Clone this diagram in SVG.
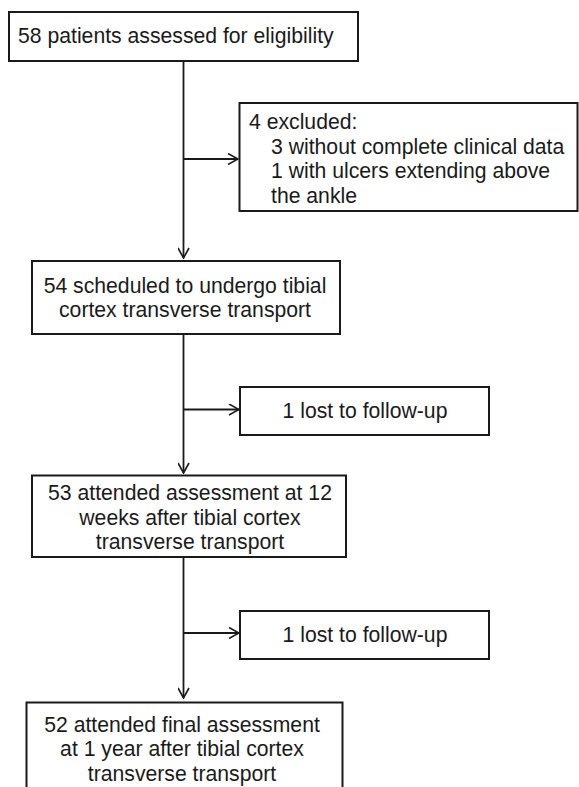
<svg xmlns="http://www.w3.org/2000/svg" width="579" height="787" viewBox="0 0 579 787">
<style>
.box{fill:#fff;stroke:#1a1a1a;stroke-width:2}
.t{font-family:"Liberation Sans",Arial,sans-serif;font-size:21.2px;fill:#1a1a1a}
.c{text-anchor:middle}
.ln{fill:none;stroke:#1a1a1a;stroke-width:1.8}
</style>
<defs>
<marker id="arr" viewBox="0 0 12 12" refX="11" refY="6" markerWidth="12" markerHeight="12" orient="auto" markerUnits="userSpaceOnUse">
<path d="M1,0.5 L11,6 L1,11.5" fill="none" stroke="#1a1a1a" stroke-width="1.6"/>
</marker>
</defs>
<rect width="579" height="787" fill="#fff"/>
<g id="connectors">
<line class="ln" x1="183.5" y1="61" x2="183.5" y2="258" marker-end="url(#arr)"/>
<line class="ln" x1="183.5" y1="159" x2="238" y2="159" marker-end="url(#arr)"/>
<line class="ln" x1="183.5" y1="334" x2="183.5" y2="473" marker-end="url(#arr)"/>
<line class="ln" x1="183.5" y1="409.5" x2="239" y2="409.5" marker-end="url(#arr)"/>
<line class="ln" x1="183.5" y1="557" x2="183.5" y2="698" marker-end="url(#arr)"/>
<line class="ln" x1="183.5" y1="633" x2="239" y2="633" marker-end="url(#arr)"/>
</g>
<g id="n1">
<rect class="box" x="9" y="12" width="349" height="49"/>
<text class="t" x="18" y="43">58 patients assessed for eligibility</text>
</g>
<g id="n2">
<rect class="box" x="239.5" y="103" width="338" height="108"/>
<text class="t" x="249" y="129">4 excluded:</text>
<text class="t" x="271" y="153.5">3 without complete clinical data</text>
<text class="t" x="271" y="178">1 with ulcers extending above</text>
<text class="t" x="271" y="202.5">the ankle</text>
</g>
<g id="n3">
<rect class="box" x="32" y="261" width="308" height="73"/>
<text class="t c" x="185" y="293">54 scheduled to undergo tibial</text>
<text class="t c" x="185" y="317">cortex transverse transport</text>
</g>
<g id="n4">
<rect class="box" x="240" y="387" width="249" height="48"/>
<text class="t c" x="365" y="418">1 lost to follow-up</text>
</g>
<g id="n5">
<rect class="box" x="32" y="475.5" width="314" height="81.5"/>
<text class="t c" x="190" y="500">53 attended assessment at 12</text>
<text class="t c" x="190" y="524.5">weeks after tibial cortex</text>
<text class="t c" x="190" y="549">transverse transport</text>
</g>
<g id="n6">
<rect class="box" x="240" y="611" width="249" height="48"/>
<text class="t c" x="365" y="642">1 lost to follow-up</text>
</g>
<g id="n7">
<rect class="box" x="26.5" y="702.5" width="316" height="100"/>
<text class="t c" x="182" y="731.5">52 attended final assessment</text>
<text class="t c" x="182" y="756">at 1 year after tibial cortex</text>
<text class="t c" x="182" y="780.5">transverse transport</text>
</g>
</svg>
